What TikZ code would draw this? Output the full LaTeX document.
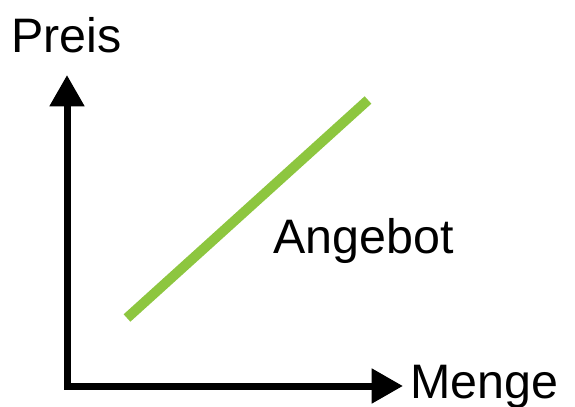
\documentclass[tikz,border=0pt]{standalone}
\usepackage{fontspec}
\setmainfont{Liberation Sans}
\usetikzlibrary{arrows.meta}
\definecolor{supplygreen}{HTML}{8DC63F}
\tikzset{
  axis/.style={line width=5.25pt, line join=miter, {Triangle[length=23.5pt,width=25pt]}-{Triangle[length=23.5pt,width=25pt]}},
  curve/.style={line width=7.5pt, draw=supplygreen},
  lbl/.style={inner sep=0pt, anchor=base west, font=\fontsize{36.3pt}{42pt}\selectfont}
}
\begin{document}
\begin{tikzpicture}[x=0.75pt,y=-0.75pt]
\useasboundingbox (0,0) rectangle (575,407);
\coordinate (ytip) at (67,75);
\coordinate (origin) at (67,386);
\coordinate (xtip) at (403,386);
\coordinate (s1) at (127,318);
\coordinate (s2) at (368,100);
\draw[axis] (ytip) -- (origin) -- (xtip);
\draw[curve] (s1) -- (s2);
\node[lbl] (preis) at (11,52) {Preis};
\node[lbl] (menge) at (410,398) {Menge};
\node[lbl] (angebot) at (273,253) {Angebot};
\end{tikzpicture}
\end{document}
